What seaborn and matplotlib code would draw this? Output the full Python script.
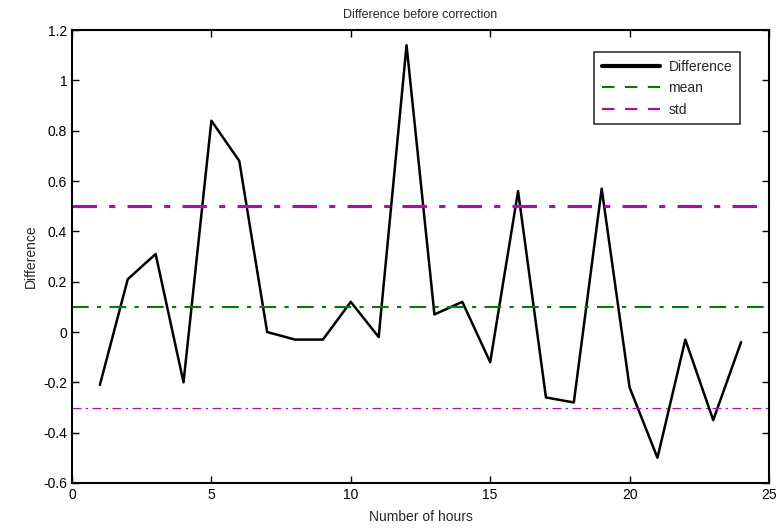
import matplotlib
matplotlib.use("Agg")
import matplotlib.pyplot as plt
import matplotlib.ticker as mticker
import seaborn as sns
import pandas as pd

# Datos
hours = list(range(1, 25))
difference = [-0.21, 0.21, 0.31, -0.20, 0.84, 0.68, 0.00, -0.03, -0.03, 0.12,
              -0.02, 1.14, 0.07, 0.12, -0.12, 0.56, -0.26, -0.28, 0.57, -0.22,
              -0.50, -0.03, -0.35, -0.04]
mean_value = 0.1
std_value = 0.4
x_ticks = [0, 5, 10, 15, 20, 25]
y_ticks = [-0.6, -0.4, -0.2, 0, 0.2, 0.4, 0.6, 0.8, 1, 1.2]


def main():
    sns.set_style("ticks")
    plt.rcParams["font.family"] = ["Liberation Sans", "DejaVu Sans"]
    plt.rcParams["xtick.direction"] = "in"
    plt.rcParams["ytick.direction"] = "in"

    df = pd.DataFrame({"hours": hours, "difference": difference})

    fig = plt.figure(figsize=(7.81, 5.29), dpi=100)
    ax = fig.add_axes([0.0922, 0.087, 0.8924, 0.856])

    sns.lineplot(data=df, x="hours", y="difference", ax=ax, color="black",
                 linewidth=1.8, label="Difference")
    ax.axhline(mean_value, color="#008000", linewidth=1.5,
               dashes=(8, 4, 2, 4), label="mean")
    ax.axhline(mean_value + std_value, color="#BF00BF", linewidth=2.2,
               dashes=(8, 4, 2, 4), label="std")
    ax.axhline(mean_value - std_value, color="#BF00BF", linewidth=0.8,
               dashes=(8, 4, 2, 4))

    ax.set_xlim(0, 25)
    ax.set_ylim(-0.6, 1.2)
    ax.set_xticks(x_ticks)
    ax.set_yticks(y_ticks)
    ax.yaxis.set_major_formatter(mticker.FormatStrFormatter("%g"))
    ax.tick_params(top=True, right=True, length=5, width=1, labelsize=10,
                   colors="black")
    for spine in ax.spines.values():
        spine.set_visible(True)
        spine.set_linewidth(1.5)
        spine.set_color("black")

    ax.set_title("Difference before correction", fontsize=9, pad=9)
    ax.set_xlabel("Number of hours", fontsize=10, labelpad=6)
    ax.set_ylabel("Difference", fontsize=10, labelpad=4)

    leg = ax.legend(loc="upper right", bbox_to_anchor=(0.958, 0.952),
                    fontsize=10, frameon=True, fancybox=False,
                    handlelength=4.2, handletextpad=0.6,
                    borderpad=0.55, labelspacing=0.55, borderaxespad=0)
    leg.get_frame().set_edgecolor("black")
    leg.get_frame().set_linewidth(1.2)
    leg.get_lines()[0].set_linewidth(3)
    leg.get_lines()[1].set_dashes((6, 5))
    leg.get_lines()[2].set_dashes((6, 5))
    leg.get_lines()[2].set_linewidth(1.5)

    fig.savefig("out.png", dpi=100, facecolor="white")
    plt.close(fig)


if __name__ == "__main__":
    main()
